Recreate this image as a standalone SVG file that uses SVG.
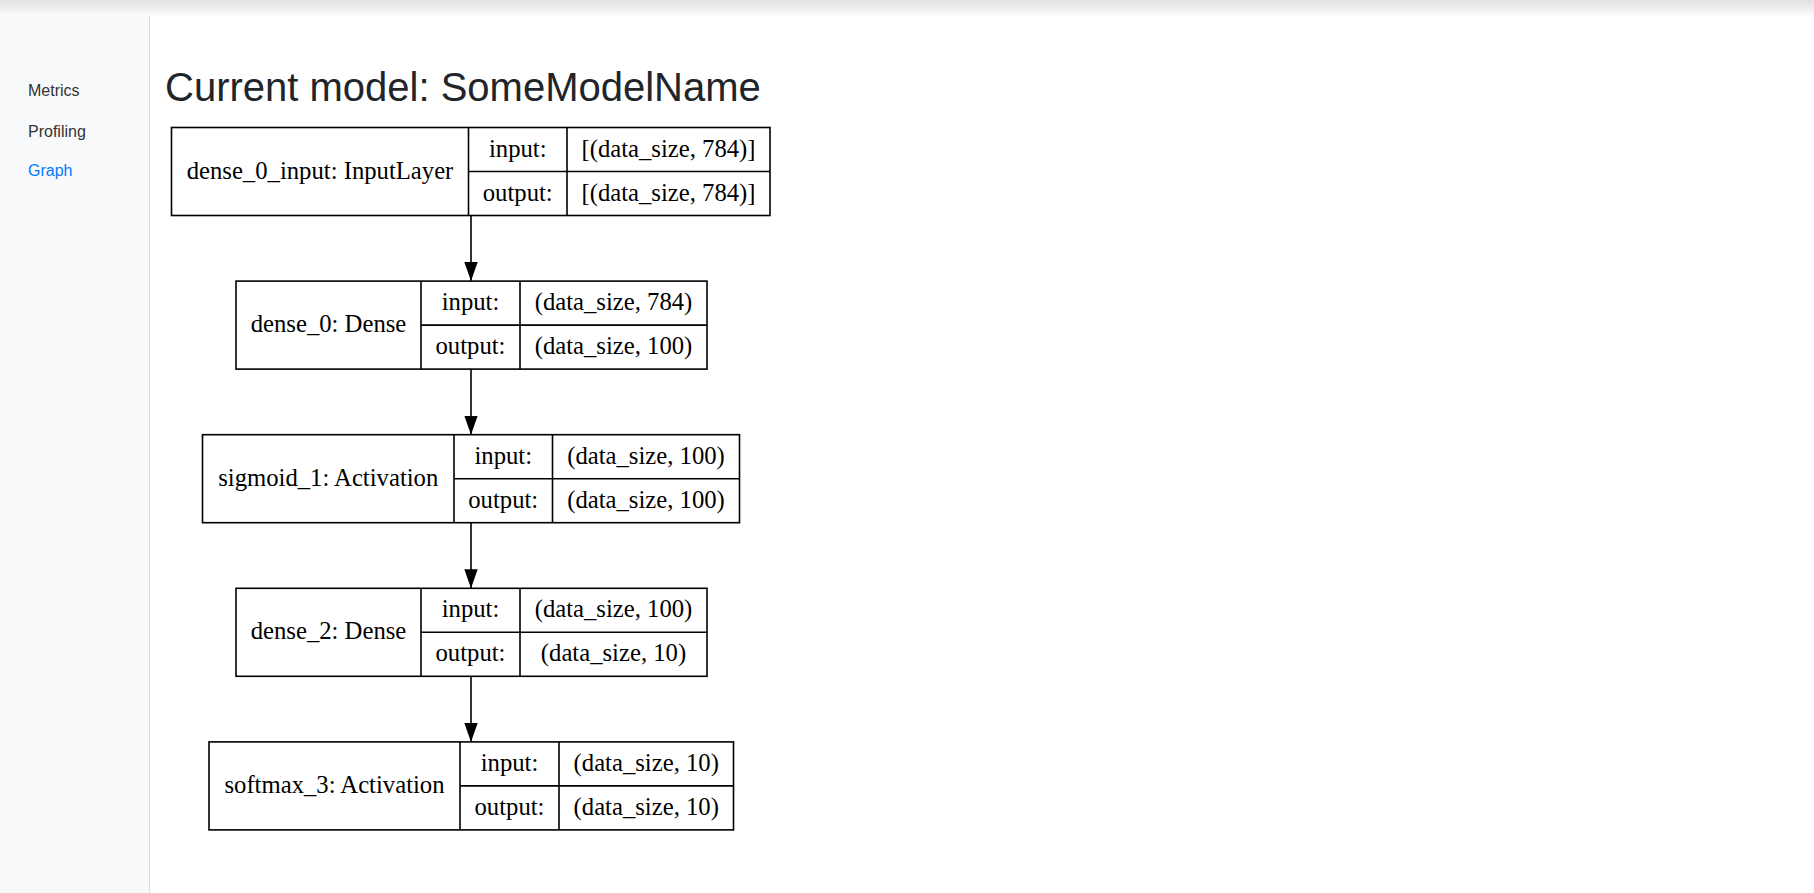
<svg xmlns="http://www.w3.org/2000/svg" width="1814" height="893" viewBox="0 0 1814 893">
<defs>
<linearGradient id="topshadow" x1="0" y1="0" x2="0" y2="1">
<stop offset="0" stop-color="#e2e2e2"/>
<stop offset="0.45" stop-color="#ececec"/>
<stop offset="1" stop-color="#ffffff"/>
</linearGradient>
<marker id="arrow" markerUnits="userSpaceOnUse" markerWidth="20" markerHeight="14" refX="19" refY="6.7" orient="auto">
<path d="M0,0 L19,6.7 L0,13.4 Z" fill="#000"/>
</marker>
</defs>
<style>
.cell{fill:#fff;stroke:#000;stroke-width:1.6}
.div{stroke:#000;stroke-width:1.6;fill:none}
.t{font-family:"Liberation Serif","Times New Roman",serif;font-size:24.7px;fill:#000;text-anchor:middle}
.nav{font-family:"Liberation Sans",Arial,sans-serif;font-size:16px;fill:#333}
.edge{stroke:#000;stroke-width:1.6;fill:none;marker-end:url(#arrow)}
</style>
<rect x="0" y="0" width="1814" height="893" fill="#fff"/>
<rect x="0" y="0" width="1814" height="17" fill="url(#topshadow)"/>
<g id="sidebar">
<rect x="0" y="16" width="149" height="877" fill="#f8f9fa"/>
<line x1="149.5" y1="16" x2="149.5" y2="893" stroke="#dddddd" stroke-width="1"/>
<text class="nav" x="28" y="96">Metrics</text>
<text class="nav" x="28" y="137">Profiling</text>
<text class="nav" x="28" y="176" style="fill:#007bff">Graph</text>
</g>
<text x="165" y="101" font-family="'Liberation Sans',Arial,sans-serif" font-size="40" fill="#212529">Current model: SomeModelName</text>
<g id="connectors">
<path class="edge" d="M471,215.5 L471,281"/>
<path class="edge" d="M471,369 L471,434.7"/>
<path class="edge" d="M471,522.7 L471,588.3"/>
<path class="edge" d="M471,676.3 L471,741.9"/>
</g>
<g id="node-dense_0_input">
<rect class="cell" x="171.5" y="127.5" width="598.5" height="88"/>
<path class="div" d="M468.5,127.5 V215.5 M567,127.5 V215.5 M468.5,171.5 H770"/>
<text class="t" x="320" y="178.5">dense_0_input: InputLayer</text>
<text class="t" x="517.75" y="156.5">input:</text>
<text class="t" x="517.75" y="200.5">output:</text>
<text class="t" x="668.5" y="156.5">[(data_size, 784)]</text>
<text class="t" x="668.5" y="200.5">[(data_size, 784)]</text>
</g>
<g id="node-dense_0">
<rect class="cell" x="236" y="281.1" width="471" height="88"/>
<path class="div" d="M421,281.1 V369.1 M520,281.1 V369.1 M421,325.1 H707"/>
<text class="t" x="328.5" y="332.1">dense_0: Dense</text>
<text class="t" x="470.5" y="310.1">input:</text>
<text class="t" x="470.5" y="354.1">output:</text>
<text class="t" x="613.5" y="310.1">(data_size, 784)</text>
<text class="t" x="613.5" y="354.1">(data_size, 100)</text>
</g>
<g id="node-sigmoid_1">
<rect class="cell" x="202.5" y="434.7" width="537" height="88"/>
<path class="div" d="M454,434.7 V522.7 M552.5,434.7 V522.7 M454,478.7 H739.5"/>
<text class="t" x="328.25" y="485.7">sigmoid_1: Activation</text>
<text class="t" x="503.25" y="463.7">input:</text>
<text class="t" x="503.25" y="507.7">output:</text>
<text class="t" x="646" y="463.7">(data_size, 100)</text>
<text class="t" x="646" y="507.7">(data_size, 100)</text>
</g>
<g id="node-dense_2">
<rect class="cell" x="236" y="588.3" width="471" height="88"/>
<path class="div" d="M421,588.3 V676.3 M520,588.3 V676.3 M421,632.3 H707"/>
<text class="t" x="328.5" y="639.3">dense_2: Dense</text>
<text class="t" x="470.5" y="617.3">input:</text>
<text class="t" x="470.5" y="661.3">output:</text>
<text class="t" x="613.5" y="617.3">(data_size, 100)</text>
<text class="t" x="613.5" y="661.3">(data_size, 10)</text>
</g>
<g id="node-softmax_3">
<rect class="cell" x="209" y="741.9" width="524.5" height="88"/>
<path class="div" d="M460,741.9 V829.9 M559,741.9 V829.9 M460,785.9 H733.5"/>
<text class="t" x="334.5" y="792.9">softmax_3: Activation</text>
<text class="t" x="509.5" y="770.9">input:</text>
<text class="t" x="509.5" y="814.9">output:</text>
<text class="t" x="646.25" y="770.9">(data_size, 10)</text>
<text class="t" x="646.25" y="814.9">(data_size, 10)</text>
</g>
</svg>
